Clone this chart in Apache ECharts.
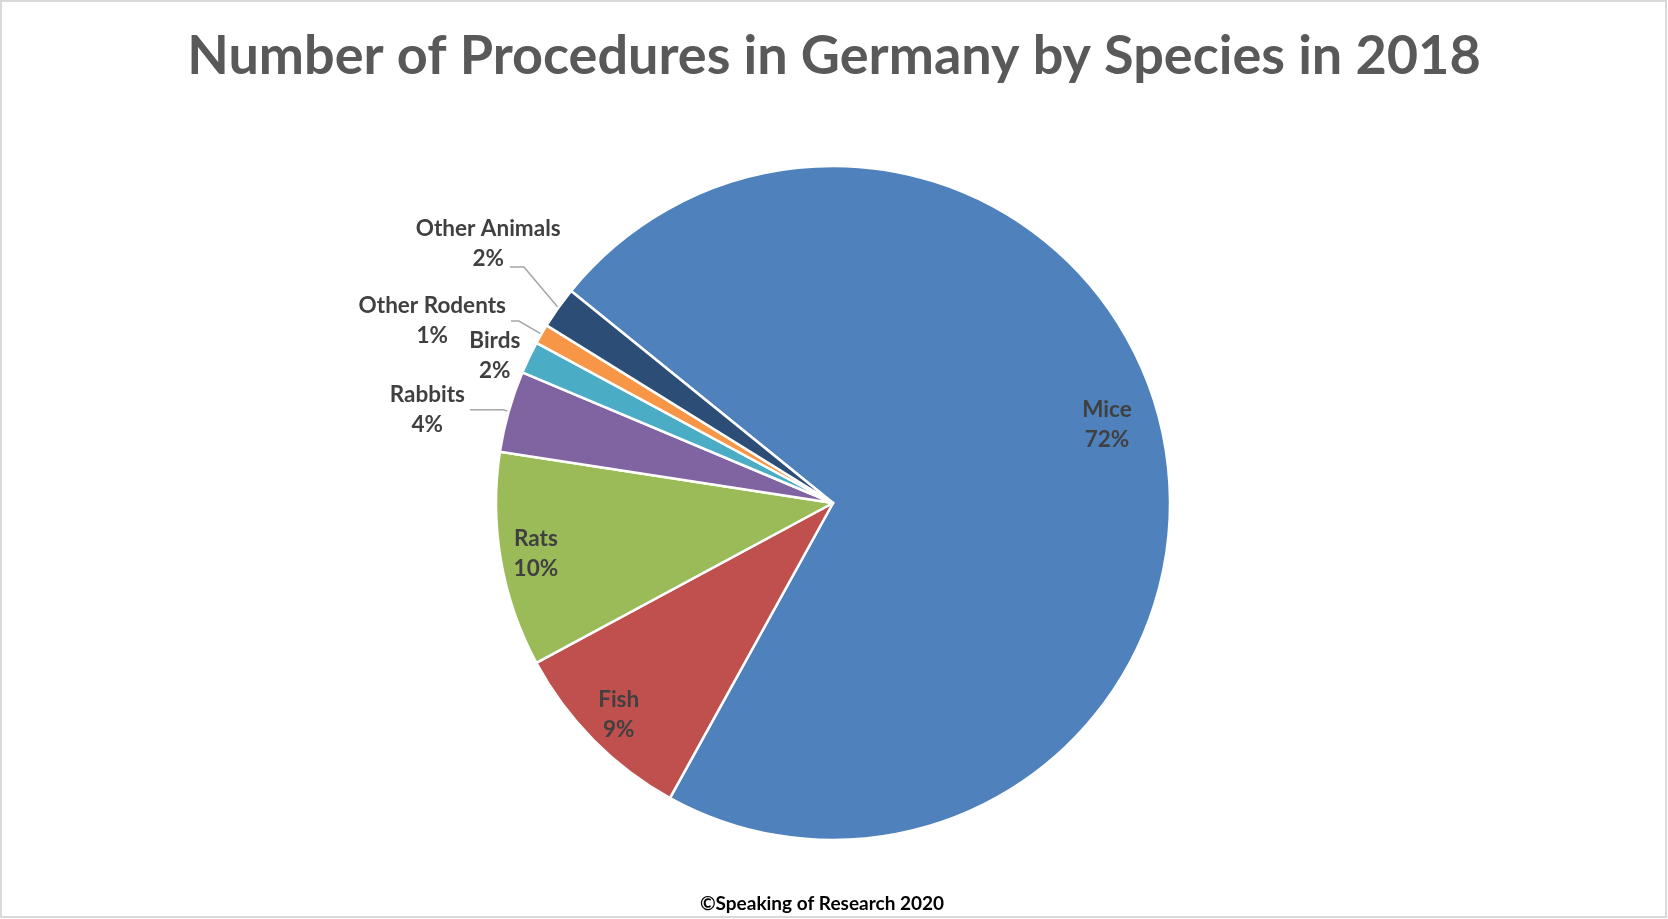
<!DOCTYPE html>
<html>
<head>
<meta charset="utf-8">
<script src="https://cdn.jsdelivr.net/npm/echarts@6/dist/echarts.min.js"></script>
<style>
  html, body { margin: 0; padding: 0; background: #ffffff; }
  #chart { width: 1668px; height: 919px; }
</style>
</head>
<body>
<div id="chart"></div>
<script>
// ---- data ----
const titleText = 'Number of Procedures in Germany by Species in 2018';
const footerText = '\u00A9Speaking of Research 2020';
const categories = ['Mice', 'Fish', 'Rats', 'Rabbits', 'Birds', 'Other Rodents', 'Other Animals'];
const shares = [72.2, 9.1, 10.3, 3.9, 1.55, 0.95, 2.0];
const insideLabelled = ['Mice', 'Fish', 'Rats'];

// ---- styling ----
const sliceColors = {
  'Mice': '#4F81BD', 'Fish': '#C0504D', 'Rats': '#9BBB59', 'Rabbits': '#8064A2',
  'Birds': '#4BACC6', 'Other Rodents': '#F79646', 'Other Animals': '#2C4D75'
};
const outsideLines = {
  'Rabbits': { length: 6, length2: 33, show: true },
  'Birds': { length: 3, length2: 1, show: false },
  'Other Rodents': { length: 26, length2: 8, show: true },
  'Other Animals': { length: 72, length2: 0, show: true }
};
const FONT = 'Lato, "Open Sans", sans-serif';
const LABEL_SIZE = 22.5;
const LINE_H = 30;
const CENTER = [833, 503];
const R = 337;
const total = shares.reduce((a, b) => a + b, 0);

function pctText(v) { return Math.round(v / total * 100) + '%'; }
function fmt(p) {
  return '{n|' + p.name + '}\n{n|' + Math.round(p.percent) + '%}';
}
const richStyle = {
  n: { align: 'center', fontFamily: FONT, fontWeight: 'bold', fontSize: LABEL_SIZE, lineHeight: LINE_H, color: '#404040' }
};
const measureCtx = document.createElement('canvas').getContext('2d');
measureCtx.font = 'bold ' + LABEL_SIZE + 'px Lato, "Open Sans", sans-serif';
function textWidth(t) { return measureCtx.measureText(t).width; }

const mainData = categories.map((c, i) => {
  const item = { name: c, value: shares[i], itemStyle: { color: sliceColors[c] } };
  if (outsideLines[c]) {
    item.label = { show: true, position: 'outside' };
    item.labelLine = {
      show: outsideLines[c].show, length: outsideLines[c].length, length2: outsideLines[c].length2,
      lineStyle: { color: '#A6A6A6', width: 1.5 }
    };
  } else {
    item.label = { show: false };
    item.labelLine = { show: false };
  }
  return item;
});

const overlayData = categories.map((c, i) => ({
  name: c, value: shares[i],
  label: { show: insideLabelled.indexOf(c) >= 0 }
}));

const movedIndex = categories.indexOf('Other Animals');

const chart = echarts.init(document.getElementById('chart'), null, { renderer: 'canvas' });
chart.setOption({
  backgroundColor: '#ffffff',
  animation: false,
  title: {
    text: titleText,
    left: 'center',
    top: 25,
    textStyle: { fontFamily: FONT, fontWeight: 'bold', fontSize: 54, color: '#595959' }
  },
  graphic: [
    { type: 'rect', shape: { x: 1, y: 1, width: 1665, height: 916 }, style: { fill: 'none', stroke: '#D9D9D9', lineWidth: 2 }, silent: true },
    { type: 'text', x: 822, y: 904, style: { text: footerText, textAlign: 'center', textVerticalAlign: 'middle', font: 'bold 19px Lato, "Open Sans", sans-serif', fill: '#000000' }, silent: true }
  ],
  series: [
    {
      type: 'pie',
      center: CENTER,
      radius: R,
      startAngle: 141,
      clockwise: true,
      avoidLabelOverlap: false,
      silent: true,
      itemStyle: { borderColor: '#ffffff', borderWidth: 2.5 },
      label: { formatter: fmt, rich: richStyle, distanceToLabelLine: 5 },
      labelLayout: function (p) {
        if (p.dataIndex !== movedIndex) return;
        const r = p.labelRect;
        const right = r.x + r.width + 66;
        const cy = r.y + r.height / 2 - 22;
        const cx = right - r.width / 2;
        const pw = textWidth(pctText(shares[movedIndex]));
        const sy = cy + LINE_H / 2 + 8;
        const sx = cx + pw / 2 + 6;
        const pts = p.labelLinePoints;
        const result = { x: right, y: cy };
        if (pts && pts.length) {
          result.labelLinePoints = [pts[0], [sx + 14, sy], [sx, sy]];
        }
        return result;
      },
      emphasis: { disabled: true },
      data: mainData
    },
    {
      type: 'pie',
      center: CENTER,
      radius: [260, R],
      startAngle: 141,
      clockwise: true,
      silent: true,
      avoidLabelOverlap: false,
      itemStyle: { color: 'rgba(0,0,0,0)', borderWidth: 0 },
      label: { position: 'inside', formatter: fmt, rich: richStyle },
      labelLine: { show: false },
      labelLayout: function (p) {
        if (p.dataIndex === 0) {
          return { x: p.labelRect.x + p.labelRect.width / 2 - 22, y: p.labelRect.y + p.labelRect.height / 2 - 21 };
        }
      },
      emphasis: { disabled: true },
      data: overlayData
    }
  ]
});
</script>
</body>
</html>
